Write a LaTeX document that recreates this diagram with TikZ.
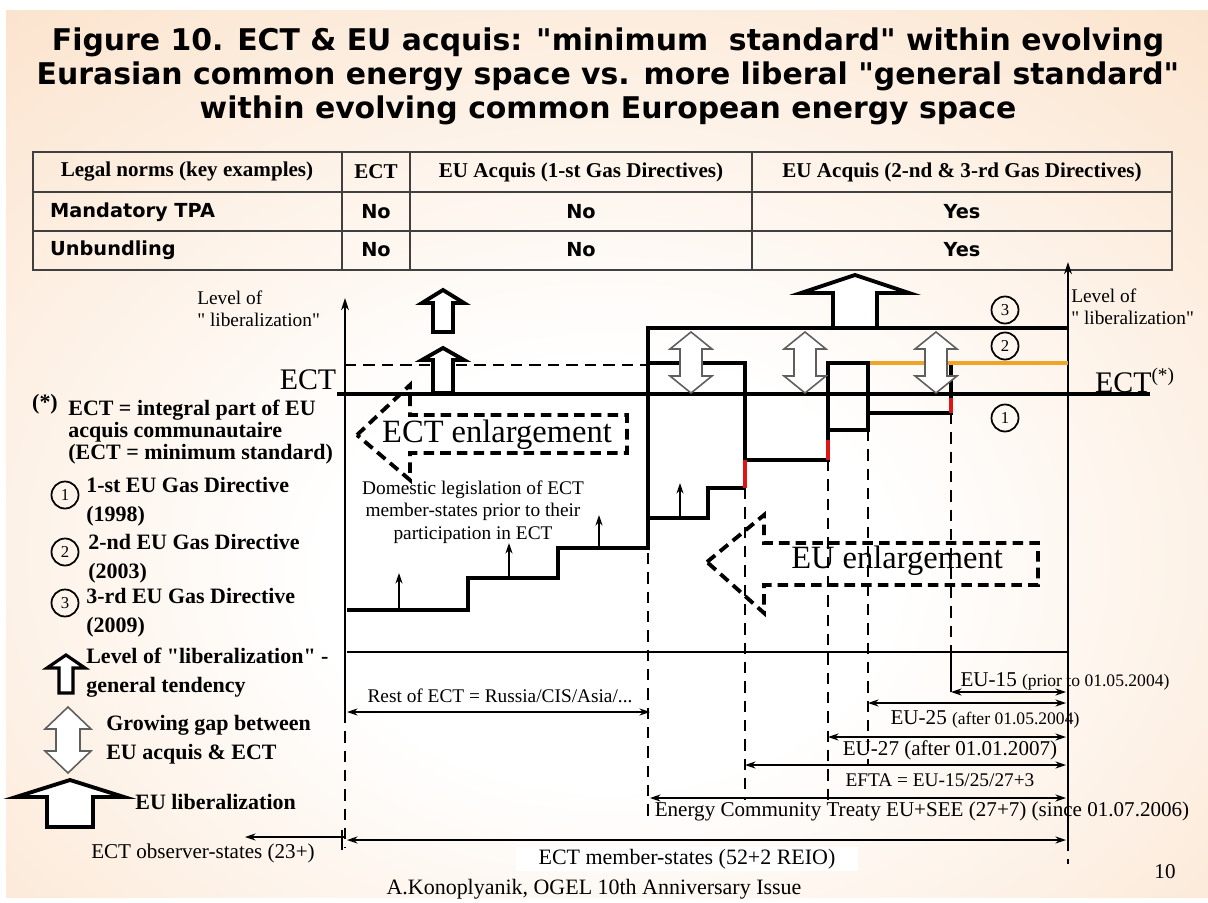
\documentclass[tikz,border=0pt]{standalone}
\usepackage{fontspec}
\setmainfont{Liberation Serif}[Ligatures=TeXOff]
\newfontfamily\slidesans{DejaVu Sans}
\usetikzlibrary{arrows.meta, positioning}

\definecolor{slidepeach}{RGB}{250,218,188}
\definecolor{gapgray}{RGB}{95,95,95}
\definecolor{gasorange}{RGB}{240,165,40}
\definecolor{jumpred}{RGB}{225,20,20}
\pgfdeclareradialshading{slideglow}{\pgfpoint{0bp}{-8bp}}{color(0bp)=(white); color(12bp)=(white); color(48bp)=(slidepeach); color(80bp)=(slidepeach)}

\begin{document}
\begin{tikzpicture}[
        x=0.02cm, y=-0.02cm,
        headline/.style={font=\slidesans\bfseries\fontsize{17}{19.4}\selectfont, align=center},
        grid/.style={draw=black!75, line width=1.1pt},
        colhead/.style={font=\bfseries\fontsize{12}{14}\selectfont},
        cell/.style={font=\slidesans\bfseries\fontsize{11}{13}\selectfont},
        stair/.style={line width=2.3pt},
        axis/.style={line width=0.9pt, -{Stealth[length=7pt, width=4.5pt]}},
        lift/.style={line width=0.9pt, -{Stealth[length=6pt, width=4pt]}},
        guide/.style={line width=1.1pt, dash pattern=on 6.5pt off 4.5pt},
        span/.style={line width=0.9pt, {Stealth[length=6pt, width=4pt]}-{Stealth[length=6pt, width=4pt]}},
        bigtag/.style={font=\fontsize{17}{20}\selectfont},
        legend/.style={font=\bfseries\fontsize{12.5}{16.5}\selectfont, align=left, anchor=west, inner sep=0pt},
        note/.style={font=\fontsize{11}{12.8}\selectfont, align=center, inner sep=0pt},
        gap/.style={draw=gapgray, fill=white, line width=0.9pt, line join=miter},
        rise/.style={draw=black, fill=white, line width=2.2pt, line join=miter},
        enlarge/.style={line width=2.2pt, dash pattern=on 6pt off 3.5pt},
        dirnum/.style={circle, draw, line width=1pt, inner sep=0pt, minimum size=0.54cm, font=\fontsize{9.5}{9.5}\selectfont}
    ]
        \useasboundingbox (0,0) rectangle (1208,903);
        \fill[white] (0,0) rectangle (1208,903);
        \shade[shading=slideglow] (6,10) rectangle (1208,897);

        \node[headline] (title) at (608,76) {Figure 10. ECT \& EU acquis: "minimum~~standard" within evolving\\Eurasian common energy space vs. more liberal "general standard"\\within evolving common European energy space};

        % table
        \draw[grid] (33,152) rectangle (1172,270);
        \draw[grid] (33,192) -- (1172,192);
        \draw[grid] (33,231) -- (1172,231);
        \draw[grid] (342,152) -- (342,270);
        \draw[grid] (410,152) -- (410,270);
        \draw[grid] (752,152) -- (752,270);
        \node[colhead] (hnorms) at (187,172) {Legal norms (key examples)};
        \node[colhead] (hect) at (376,172) {ECT};
        \node[colhead] (hfirst) at (581,172) {EU Acquis (1-st Gas Directives)};
        \node[colhead] (hlater) at (962,172) {EU Acquis (2-nd \& 3-rd Gas Directives)};
        \node[cell, anchor=west] (rtpa) at (44,212) {Mandatory TPA};
        \node[cell] (tpaect) at (376,212) {No};
        \node[cell] (tpafirst) at (581,212) {No};
        \node[cell] (tpalater) at (962,212) {Yes};
        \node[cell, anchor=west] (runb) at (44,250) {Unbundling};
        \node[cell] (unbect) at (376,250) {No};
        \node[cell] (unbfirst) at (581,250) {No};
        \node[cell] (unblater) at (962,250) {Yes};

        % axes and levels
        \draw[axis] (345,712) -- (345,298);
        \draw[guide] (345,712) -- (345,848);
        \draw[axis] (1068,840) -- (1068,262);
        \draw[guide] (1068,840) -- (1068,864);
        \draw[line width=0.9pt] (347,652) -- (1068,652);
        \draw[line width=1pt, dash pattern=on 6.5pt off 4pt] (345,365) -- (648,365);
        \draw[stair] (337,394) -- (1150,394);
        \node[bigtag] (ectleft) at (308,380) {ECT};
        \node[bigtag] (ectright) at (1135,380) {ECT\textsuperscript{\fontsize{11}{11}\selectfont(*)}};
        \node[note, align=left, anchor=west] (levleft) at (197,309) {Level of\\" liberalization"};
        \node[note, align=left, anchor=west] (levright) at (1071,307) {Level of\\" liberalization"};

        % staircases
        \draw[stair] (347,610) -- (468,610) -- (468,578) -- (558,578) -- (558,548) -- (648,548) -- (648,328) -- (1068,328);
        \draw[stair] (648,363) -- (745,363) -- (745,488);
        \draw[stair] (648,518) -- (708,518) -- (708,488) -- (745,488);
        \draw[stair] (745,460) -- (828,460) -- (828,363) -- (868,363) -- (868,430) -- (828,430);
        \draw[stair] (868,413) -- (951,413) -- (951,363);
        \draw[stair, gasorange] (870,363) -- (1068,363);
        \draw[line width=2pt, jumpred] (745,460) -- (745,488);
        \draw[line width=2pt, jumpred] (828,440) -- (828,460);
        \draw[line width=2pt, jumpred] (951,398) -- (951,413);
        \draw[lift] (399,610) -- (399,573);
        \draw[lift] (509,578) -- (509,543);
        \draw[lift] (599,548) -- (599,515);
        \draw[lift] (680,518) -- (680,483);
        \node[dirnum] (dir3) at (1005,310) {3};
        \node[dirnum] (dir2) at (1005,346) {2};
        \node[dirnum] (dir1) at (1005,418) {1};

        % liberalization and gap arrows
        \draw[rise] (443,290) -- ++(21,13) -- ++(-11,0) -- ++(0,29) -- ++(-20,0) -- ++(0,-29) -- ++(-11,0) -- cycle;
        \draw[rise] (443,348) -- ++(21,12) -- ++(-11,0) -- ++(0,33) -- ++(-20,0) -- ++(0,-33) -- ++(-11,0) -- cycle;
        \draw[rise] (855,275) -- ++(54,18) -- ++(-32,0) -- ++(0,35) -- ++(-44,0) -- ++(0,-35) -- ++(-32,0) -- cycle;
        \draw[gap] (691,332) -- ++(21,17) -- ++(-10,0) -- ++(0,27) -- ++(10,0) -- ++(-21,17) -- ++(-21,-17) -- ++(10,0) -- ++(0,-27) -- ++(-10,0) -- cycle;
        \draw[gap] (805,332) -- ++(21,17) -- ++(-10,0) -- ++(0,27) -- ++(10,0) -- ++(-21,17) -- ++(-21,-17) -- ++(10,0) -- ++(0,-27) -- ++(-10,0) -- cycle;
        \draw[gap] (936,332) -- ++(21,17) -- ++(-10,0) -- ++(0,27) -- ++(10,0) -- ++(-21,17) -- ++(-21,-17) -- ++(10,0) -- ++(0,-27) -- ++(-10,0) -- cycle;

        % membership guides
        \draw[guide] (648,553) -- (648,820);
        \draw[guide] (745,488) -- (745,800);
        \draw[guide] (828,460) -- (828,800);
        \draw[guide] (868,430) -- (868,766);
        \draw[guide] (951,413) -- (951,652);
        \draw[line width=0.9pt] (951,652) -- (951,692);

        % enlargement arrows
        \draw[enlarge] (357,435) -- (410,385) -- (410,415) -- (627,415) -- (627,453) -- (410,453) -- (410,480) -- cycle;
        \node[bigtag, font=\fontsize{18.5}{20}\selectfont] (ectgrow) at (497,435) {ECT enlargement};
        \draw[enlarge] (707,562) -- (764,515) -- (764,543) -- (1038,543) -- (1038,585) -- (764,585) -- (764,613) -- cycle;
        \node[bigtag, font=\fontsize{18.5}{20}\selectfont] (eugrow) at (897,561) {EU enlargement};
        \node[note] (domestic) at (473,512) {Domestic legislation of ECT\\member-states prior to their\\participation in ECT};

        % spans
        \draw[span] (347,712) -- (650,712);
        \node[note] (restlbl) at (500,696) {Rest of ECT = Russia/CIS/Asia/...};
        \draw[span] (951,692) -- (1066,692);
        \node[note] (eu15lbl) at (1065,681) {\fontsize{12}{14}\selectfont EU-15 {\fontsize{10}{12}\selectfont(prior to 01.05.2004)}};
        \draw[span] (868,703) -- (1066,703);
        \node[note] (eu25lbl) at (985,719) {\fontsize{12}{14}\selectfont EU-25 {\fontsize{10}{12}\selectfont(after 01.05.2004)}};
        \draw[span] (828,737) -- (1066,737);
        \node[note, font=\fontsize{12}{14}\selectfont] (eu27lbl) at (950,750) {EU-27 (after 01.01.2007)};
        \draw[span] (745,765) -- (1066,765);
        \node[note] (eftalbl) at (940,780) {EFTA = EU-15/25/27+3};
        \draw[span] (650,798) -- (1066,798);
        \node[note, font=\fontsize{12}{14}\selectfont] (enclbl) at (922,811) {Energy Community Treaty EU+SEE (27+7) (since 01.07.2006)};
        \draw[span] (347,840) -- (1066,840);
        \draw[line width=0.9pt] (342,830) -- (342,850);
        \draw[line width=0.9pt] (1068,830) -- (1068,850);
        \node[fill=white, minimum width=6.86cm, minimum height=0.48cm, inner sep=0pt, font=\fontsize{12.5}{14}\selectfont] (members) at (687,859) {ECT member-states (52+2 REIO)};
        \draw[lift] (345,837) -- (245,837);
        \node[note, font=\fontsize{12}{14}\selectfont] (observers) at (203,853) {ECT observer-states (23+)};

        % legend
        \node[font=\bfseries\fontsize{12.5}{14}\selectfont, inner sep=0pt] (star) at (45,404) {(*)};
        \node[legend, font=\bfseries\fontsize{12.5}{12.5}\selectfont] (acquis) at (68,432) {ECT = integral part of EU\\acquis communautaire\\(ECT = minimum standard)};
        \node[dirnum] (leg1) at (65,495) {1};
        \node[legend] (gas1) at (86,502) {1-st EU Gas Directive\\(1998)};
        \node[dirnum] (leg2) at (65,552) {2};
        \node[legend] (gas2) at (88,559) {2-nd EU Gas Directive\\(2003)};
        \node[dirnum] (leg3) at (65,603) {3};
        \node[legend] (gas3) at (86,613) {3-rd EU Gas Directive\\(2009)};
        \draw[rise, line width=1.8pt] (66,655) -- ++(19,13) -- ++(-12,0) -- ++(0,25) -- ++(-14,0) -- ++(0,-25) -- ++(-12,0) -- cycle;
        \node[legend] (tendency) at (86,673) {Level of "liberalization" -\\general tendency};
        \draw[gap] (68,707) -- ++(23,22) -- ++(-11,0) -- ++(0,22) -- ++(11,0) -- ++(-23,22) -- ++(-23,-22) -- ++(11,0) -- ++(0,-22) -- ++(-11,0) -- cycle;
        \node[legend] (gaptxt) at (106,740) {Growing gap between\\EU acquis \& ECT};
        \draw[rise] (70,780) -- ++(54,17) -- ++(-31,0) -- ++(0,30) -- ++(-46,0) -- ++(0,-30) -- ++(-31,0) -- cycle;
        \node[legend] (libtxt) at (135,802) {EU liberalization};

        \node[font=\fontsize{12.5}{14}\selectfont] (source) at (594,889) {A.Konoplyanik, OGEL 10th Anniversary Issue};
        \node[font=\fontsize{12}{14}\selectfont] (pagenum) at (1165,872) {10};
    \end{tikzpicture}
\end{document}
